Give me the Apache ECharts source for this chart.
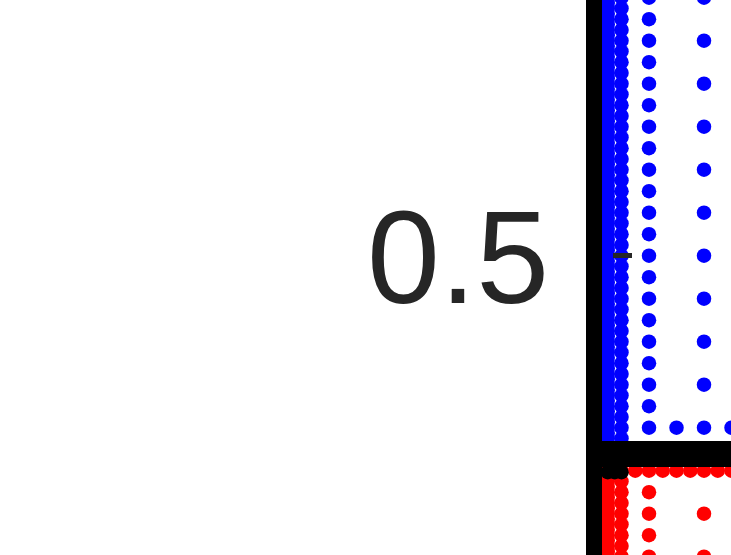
<!DOCTYPE html>
<html>
<head>
<meta charset="utf-8">
<style>
  html, body { margin: 0; padding: 0; background: #ffffff; }
  #chart { width: 731px; height: 555px; }
</style>
<script src="https://cdn.jsdelivr.net/npm/echarts@6/dist/echarts.min.js"></script>
</head>
<body>
<div id="chart"></div>
<script>
const yTickValues = [0.5];

const blueBandInnerX = 0.0625;
const blueBandInnerY = [
  0.0139, 0.0278, 0.0417, 0.0556, 0.0694, 0.0833, 0.0972, 0.1111, 0.125, 0.1389,
  0.1528, 0.1667, 0.1806, 0.1944, 0.2083, 0.2222, 0.2361, 0.25, 0.2639, 0.2778,
  0.2917, 0.3056, 0.3194, 0.3333, 0.3472, 0.3611, 0.375, 0.3889, 0.4028, 0.4167,
  0.4306, 0.4444, 0.4583, 0.4722, 0.4861, 0.5, 0.5139, 0.5278, 0.5417, 0.5556,
  0.5694, 0.5833, 0.5972, 0.6111, 0.625, 0.6389, 0.6528, 0.6667, 0.6806, 0.6944,
  0.7083, 0.7222, 0.7361, 0.75, 0.7639, 0.7778, 0.7917, 0.8056, 0.8194, 0.8333,
  0.8472, 0.8611, 0.875, 0.8889, 0.9028, 0.9167, 0.9306, 0.9444, 0.9583, 0.9722,
  0.9861, 1.0, 1.0139, 1.0278, 1.0417, 1.0556, 1.0694, 1.0833, 1.0972, 1.1111,
  1.125, 1.1389, 1.1528, 1.1667
];
const blueBandOuterX = 0.125;
const blueBandOuterY = [
  0.0278, 0.0556, 0.0833, 0.1111, 0.1389, 0.1667, 0.1944, 0.2222, 0.25, 0.2778,
  0.3056, 0.3333, 0.3611, 0.3889, 0.4167, 0.4444, 0.4722, 0.5, 0.5278, 0.5556,
  0.5833, 0.6111, 0.6389, 0.6667, 0.6944, 0.7222, 0.75, 0.7778, 0.8056, 0.8333,
  0.8611, 0.8889, 0.9167, 0.9444, 0.9722, 1.0, 1.0278, 1.0556, 1.0833, 1.1111,
  1.1389, 1.1667
];
const blueColAX = 0.25;
const blueColAY = [
  0.0556, 0.1111, 0.1667, 0.2222, 0.2778, 0.3333, 0.3889, 0.4444, 0.5, 0.5556,
  0.6111, 0.6667, 0.7222, 0.7778, 0.8333, 0.8889, 0.9444, 1.0, 1.0556, 1.1111, 1.1667
];
const blueColBX = 0.5;
const blueColBY = [
  0.0556, 0.1667, 0.2778, 0.3889, 0.5, 0.6111, 0.7222, 0.8333, 0.9444, 1.0556, 1.1667
];
const blueRowY = 0.0556;
const blueRowX = [0.375, 0.625];

const redBandInnerY = [
  -0.0139, -0.0278, -0.0417, -0.0556, -0.0694, -0.0833, -0.0972, -0.1111, -0.125, -0.1389,
  -0.1528, -0.1667, -0.1806, -0.1944, -0.2083, -0.2222, -0.2361, -0.25, -0.2639, -0.2778, -0.2917
];
const redBandOuterY = [
  -0.0278, -0.0556, -0.0833, -0.1111, -0.1389, -0.1667, -0.1944, -0.2222, -0.25, -0.2778
];
const redColAY = [-0.1111, -0.1667, -0.2222, -0.2778];
const redColBY = [-0.1667, -0.2778];
const redRowY = -0.0556;
const redRowX = [0.1875, 0.25, 0.3125, 0.375, 0.4375, 0.5, 0.5625, 0.625];

const blackX = [0.0625, 0.09375, 0.125];
const blackY = -0.0595;

const col = (x, ys) => ys.map(y => [x, y]);
const row = (xs, y) => xs.map(x => [x, y]);

const blueData = [].concat(
  col(blueBandInnerX, blueBandInnerY),
  col(blueBandOuterX, blueBandOuterY),
  col(blueColAX, blueColAY),
  col(blueColBX, blueColBY),
  row(blueRowX, blueRowY)
);
const redData = [].concat(
  col(blueBandInnerX, redBandInnerY),
  col(blueBandOuterX, redBandOuterY),
  col(blueColAX, redColAY),
  col(blueColBX, redColBY),
  row(redRowX, redRowY)
);
const blackData = row(blackX, blackY);

const chart = echarts.init(document.getElementById('chart'), null, { renderer: 'canvas' });

const Y_MIN = -1, Y_MAX = 1.5;
const option = {
  animation: false,
  backgroundColor: '#ffffff',
  grid: {
    left: 594, right: -83, top: -131.3, bottom: -281.2,
    containLabel: false,
    outerBoundsMode: 'none'
  },
  xAxis: {
    type: 'value', min: 0, max: 1,
    position: 'bottom',
    offset: -382.2,
    z: 5,
    axisLine: { show: true, onZero: false, symbol: ['none', 'none'], lineStyle: { color: '#000000', width: 26, cap: 'butt' } },
    axisTick: { show: false },
    axisLabel: { show: false },
    splitLine: { show: false }
  },
  yAxis: [
    {
      type: 'value', min: Y_MIN, max: Y_MAX,
      position: 'left',
      z: 5,
      axisLine: { show: true, onZero: false, symbol: ['none', 'none'], lineStyle: { color: '#000000', width: 16, cap: 'butt' } },
      axisTick: { show: false },
      axisLabel: {
        show: true,
        customValues: yTickValues,
        margin: 45,
        verticalAlign: 'top',
        lineHeight: 23,
        fontSize: 131,
        fontFamily: 'Liberation Sans, Arial, sans-serif',
        color: '#262626'
      },
      splitLine: { show: false }
    },
    {
      type: 'value', min: Y_MIN, max: Y_MAX,
      position: 'left',
      offset: -19,
      z: 5,
      axisLine: { show: false },
      axisTick: {
        show: true, inside: true, length: 19,
        customValues: yTickValues,
        lineStyle: { color: '#262626', width: 5 }
      },
      axisLabel: { show: false },
      splitLine: { show: false }
    }
  ],
  series: [
    {
      type: 'scatter', name: 'blue', data: blueData, yAxisIndex: 0,
      symbol: 'circle', symbolSize: 14.5,
      itemStyle: { color: '#0000ff', opacity: 1 },
      z: 2, silent: true
    },
    {
      type: 'scatter', name: 'red', data: redData, yAxisIndex: 0,
      symbol: 'circle', symbolSize: 14.5,
      itemStyle: { color: '#ff0000', opacity: 1 },
      z: 2, silent: true
    },
    {
      type: 'scatter', name: 'black', data: blackData, yAxisIndex: 0,
      symbol: 'circle', symbolSize: 14.5,
      itemStyle: { color: '#000000', opacity: 1 },
      z: 3, silent: true
    }
  ]
};
chart.setOption(option);
</script>
</body>
</html>
